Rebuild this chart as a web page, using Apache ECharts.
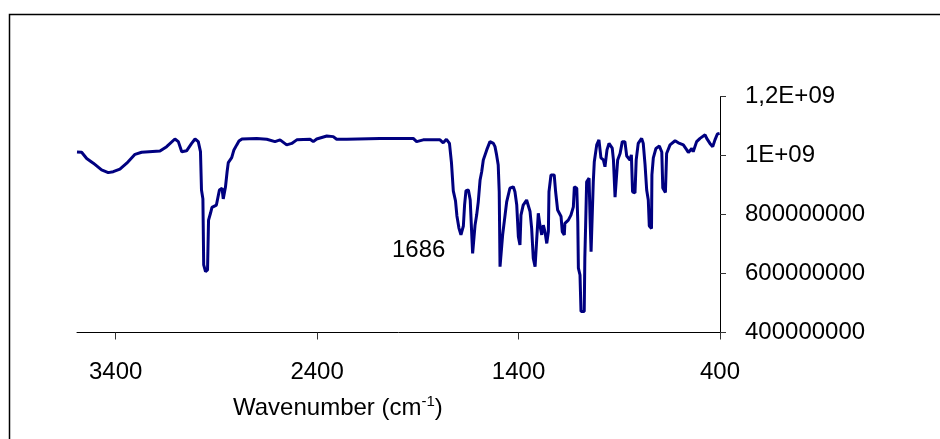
<!DOCTYPE html>
<html>
<head>
<meta charset="utf-8">
<script src="https://cdn.jsdelivr.net/npm/echarts@6/dist/echarts.min.js"></script>
<style>
html,body{margin:0;padding:0;background:#fff;}
#chart{width:940px;height:439px;}
</style>
</head>
<body>
<div id="chart"></div>
<script>
// Wavenumber (cm-1)
var wavenumber = [3592,3569,3544,3511,3470,3437,3412,3379,3345,3304,3271,3180,3147,3106,3089,3072,3048,3023,3006,2990,2979,2974,2967,2963,2954,2944,2939,2929,2922,2900,2885,2872,2866,2855,2847,2841,2824,2813,2799,2788,2773,2700,2650,2609,2584,2551,2526,2501,2435,2419,2402,2352,2320,2303,2253,2088,1923,1906,1873,1790,1774,1758,1743,1733,1724,1713,1706,1696,1686,1674,1668,1661,1649,1640,1633,1628,1621,1616,1608,1600,1591,1583,1575,1558,1542,1525,1517,1509,1501,1496,1492,1484,1479,1467,1459,1443,1426,1418,1409,1401,1393,1388,1377,1360,1352,1343,1335,1327,1318,1310,1302,1294,1285,1277,1269,1260,1252,1249,1239,1223,1216,1206,1189,1183,1173,1170,1153,1140,1128,1123,1111,1106,1103,1095,1090,1074,1071,1067,1062,1050,1045,1040,1034,1029,1024,1012,1001,991,979,971,961,951,935,929,921,913,908,896,885,872,863,847,840,834,822,816,806,789,781,772,764,756,751,740,738,731,718,701,689,684,671,665,648,623,607,582,565,557,540,533,516,499,474,466,450,436,425,413,402];
// Signal (x 1e6)
var signal = [1012,1011,990,974,951,942,945,954,974,1004,1011,1015,1030,1056,1047,1013,1016,1041,1056,1047,1013,883,853,629,606,612,781,805,824,832,883,889,853,893,944,976,993,1019,1036,1049,1056,1058,1055,1047,1053,1036,1041,1053,1055,1047,1056,1066,1064,1055,1055,1058,1058,1047,1053,1053,1043,1055,1041,975,880,846,795,754,731,761,832,881,883,849,742,668,668,764,798,843,917,945,985,1019,1047,1041,1030,1002,968,877,623,623,731,798,843,889,894,877,832,725,697,798,832,849,855,810,753,652,623,714,804,764,731,764,742,702,742,877,934,934,877,815,793,742,731,770,781,798,826,894,889,776,618,595,471,471,652,764,911,923,787,674,674,911,979,1036,1053,992,985,962,1019,1041,1025,985,859,859,985,1007,1047,1047,998,985,1002,877,873,985,1041,1058,1041,968,883,849,761,753,934,992,1024,1032,1012,890,875,1007,1036,1050,1043,1036,1019,1010,1024,1013,1047,1058,1070,1058,1041,1030,1053,1073,1075];
var xTicks = [400,1400,2400,3400];
var yTickLabels = {"1200000000":"1,2E+09","1000000000":"1E+09","800000000":"800000000","600000000":"600000000","400000000":"400000000"};

var pts = wavenumber.map(function(w,i){return [w, signal[i]*1e6];});
var FONT = '"Liberation Sans", Arial, sans-serif';

var chart = echarts.init(document.getElementById('chart'), null, {renderer:'canvas'});
chart.setOption({
  animation:false,
  backgroundColor:'#fff',
  grid:{left:77,right:220,top:96.5,bottom:106.5,containLabel:false},
  xAxis:{
    type:'value', inverse:true, min:400, max:3592,
    splitLine:{show:false},
    axisLine:{show:true,onZero:false,lineStyle:{color:'#000',width:1}},
    axisTick:{show:true,length:7,lineStyle:{color:'#333',width:1},customValues:xTicks},
    axisLabel:{show:true,margin:28,fontFamily:FONT,fontSize:24,color:'#000',customValues:xTicks,
      formatter:function(v){return String(v);}}
  },
  yAxis:{
    type:'value', position:'right', min:400000000, max:1200000000, interval:200000000,
    splitLine:{show:false},
    axisLine:{show:true,lineStyle:{color:'#000',width:1}},
    axisTick:{show:true,inside:false,length:6,lineStyle:{color:'#333',width:1}},
    axisLabel:{show:true,margin:25,fontFamily:FONT,fontSize:24,color:'#000',
      formatter:function(v){return yTickLabels[String(Math.round(v))]||String(v);}}
  },
  series:[{
    type:'line', data:pts, showSymbol:false, symbol:'none', smooth:false,
    lineStyle:{color:'#000080',width:3}
  }],
  graphic:[
    {type:'polyline',shape:{points:[[9.5,439],[9.5,14.5],[940,14.5]]},style:{stroke:'#000',lineWidth:1.5,fill:null}},
    {type:'text',x:392,y:250.5,style:{text:'1686',font:'24px '+FONT,fill:'#000',textAlign:'left',textVerticalAlign:'middle'}},
    {type:'text',x:233,y:408,style:{
      text:'Wavenumber (cm{s|-1})',
      fontFamily:FONT,fontSize:24,fill:'#000',align:'left',verticalAlign:'middle',lineHeight:28,
      rich:{s:{fontFamily:FONT,fontSize:15,lineHeight:28,verticalAlign:'top',fill:'#000'}}
    }}
  ]
});
</script>
</body>
</html>
